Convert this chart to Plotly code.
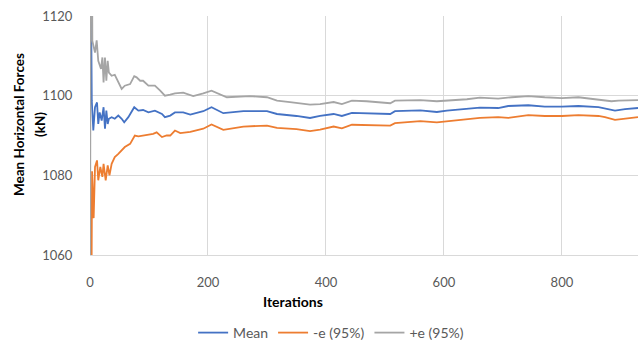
import plotly.graph_objects as go

# ---- data ----
mean_x = [1, 3, 5.6, 8.5, 11.9, 14, 16.4, 19.8, 23, 25.4, 27.7, 30, 32, 36.7, 42, 48, 53.7, 58, 65, 75, 82, 90, 99, 110, 122, 127, 136, 144, 158, 170, 192, 206, 226, 260, 300, 317, 350, 373, 390, 413, 427, 444, 509, 517, 560, 588, 605, 639, 661, 692, 709, 743, 771, 800, 828, 862, 890, 907, 929]
mean_y = [1140, 1098.75, 1091.25, 1097.1, 1098.3, 1092.9, 1095.8, 1093.75, 1097.1, 1091.7, 1096.25, 1092.9, 1094.2, 1094.6, 1094.2, 1095, 1094.2, 1093.3, 1094.6, 1097.1, 1096.25, 1096.4, 1095.8, 1096.25, 1095.4, 1094.6, 1095, 1095.8, 1095.8, 1095.25, 1096.1, 1097.1, 1095.6, 1096.1, 1096.1, 1095.4, 1094.9, 1094.4, 1094.9, 1095.4, 1094.9, 1095.7, 1095.4, 1096.1, 1096.3, 1095.9, 1096.25, 1096.75, 1097, 1096.9, 1097.4, 1097.6, 1097.25, 1097.25, 1097.4, 1097.1, 1096.25, 1096.6, 1096.9]

lo_x = [1.5, 3.5, 6.2, 8.5, 11.9, 14, 17.5, 21, 23, 26.6, 30, 33, 36.7, 42, 48, 53.7, 59, 68, 76, 82, 90, 99, 107, 113, 122, 130, 136, 144, 153, 170, 192, 206, 226, 260, 300, 317, 350, 373, 390, 413, 427, 444, 509, 517, 560, 588, 605, 639, 661, 692, 709, 743, 771, 800, 828, 862, 873, 890, 907, 929]
lo_y = [1020, 1081, 1069.25, 1082.1, 1083.75, 1078.75, 1082.1, 1079.6, 1082.9, 1078.75, 1082.5, 1080, 1082.9, 1084.6, 1085.4, 1086.25, 1087.1, 1087.9, 1090, 1089.8, 1090, 1090.25, 1090.4, 1090.8, 1089.6, 1090, 1090, 1091.25, 1090.6, 1090.9, 1091.7, 1092.75, 1091.4, 1092.25, 1092.5, 1091.9, 1091.6, 1091.1, 1091.5, 1092.25, 1091.8, 1092.7, 1092.5, 1093.1, 1093.6, 1093.3, 1093.6, 1094.1, 1094.4, 1094.6, 1094.4, 1095.1, 1094.9, 1094.9, 1095.1, 1094.9, 1094.6, 1093.9, 1094.25, 1094.6]

hi_x = [0, 1.5, 4, 8.5, 11.3, 14, 18.7, 21, 23, 25.4, 27.7, 30, 32, 36.7, 42, 48, 53.7, 59, 68, 75, 79, 85, 90, 99, 110, 119, 127, 136, 144, 158, 175, 192, 206, 232, 271, 300, 317, 339, 373, 390, 413, 427, 444, 469, 509, 517, 560, 588, 605, 639, 661, 692, 715, 743, 771, 800, 828, 862, 884, 896, 929]
hi_y = [1030, 1200, 1113.75, 1110.8, 1113.9, 1108.75, 1106.7, 1109.6, 1103.3, 1109.6, 1103.75, 1108.75, 1105.8, 1105, 1105.25, 1103.3, 1101.7, 1102.5, 1102.9, 1104.9, 1104.6, 1103.75, 1103.75, 1102.5, 1102.5, 1101.25, 1100, 1100.25, 1100.6, 1100.75, 1099.9, 1100.6, 1101.25, 1099.6, 1099.9, 1099.6, 1098.75, 1098.4, 1097.75, 1097.9, 1098.4, 1097.9, 1098.75, 1098.6, 1098.1, 1098.75, 1098.9, 1098.6, 1098.75, 1099.1, 1099.5, 1099.25, 1099.6, 1099.9, 1099.6, 1099.4, 1099.6, 1099.1, 1098.6, 1098.75, 1098.9]

x_ticks = [0, 200, 400, 600, 800]
y_ticks = [1060, 1080, 1100, 1120]
series_names = ["Mean", "-e (95%)", "+e (95%)"]
colors = ["#4472C4", "#ED7D31", "#A5A5A5"]

FONT = "Lato"

fig = go.Figure()
for name, xs, ys, c in zip(series_names, [mean_x, lo_x, hi_x], [mean_y, lo_y, hi_y], colors):
    fig.add_trace(go.Scatter(x=xs, y=ys, mode="lines", name=name,
                             line=dict(color=c, width=1.8)))

fig.update_layout(
    width=638, height=345,
    margin=dict(l=90, r=0, t=16, b=90, autoexpand=False),
    paper_bgcolor="white", plot_bgcolor="white",
    font=dict(family=FONT, size=13, color="#595959"),
    showlegend=True,
    legend=dict(orientation="h", x=0.44, xanchor="center",
                yref="container", y=(345 - 333) / 345, yanchor="middle",
                font=dict(family=FONT, size=14, color="#595959"), itemwidth=30,
                traceorder="normal"),
    xaxis=dict(range=[0, 929], tickvals=x_ticks, showgrid=True, gridcolor="#d9d9d9",
               gridwidth=1, zeroline=False, showline=True, linecolor="#d9d9d9", linewidth=1,
               ticks="outside", ticklen=15, tickcolor="rgba(0,0,0,0)",
               tickfont=dict(size=13, color="#595959")),
    yaxis=dict(range=[1060, 1120], tickvals=y_ticks, showgrid=True, gridcolor="#d9d9d9",
               gridwidth=1, zeroline=False, showline=False,
               ticks="outside", ticklen=14, tickcolor="rgba(0,0,0,0)",
               tickfont=dict(size=13, color="#595959")),
    annotations=[
        dict(text="<b>Mean Horizontal Forces</b>", xref="paper", yref="paper",
             x=(19 - 90) / 548, y=(255 - 125) / 239, xanchor="center", yanchor="middle",
             textangle=-90, showarrow=False, font=dict(family=FONT, size=13.5, color="#000000")),
        dict(text="<b>(kN)</b>", xref="paper", yref="paper",
             x=(40 - 90) / 548, y=(255 - 125) / 239, xanchor="center", yanchor="middle",
             textangle=-90, showarrow=False, font=dict(family=FONT, size=13.5, color="#000000")),
        dict(text="<b>Iterations</b>", xref="paper", yref="paper",
             x=(293 - 90) / 548, y=-(301 - 255) / 239, xanchor="center", yanchor="middle",
             showarrow=False, font=dict(family=FONT, size=14, color="#000000")),
    ],
)

fig.write_html("out.html")
